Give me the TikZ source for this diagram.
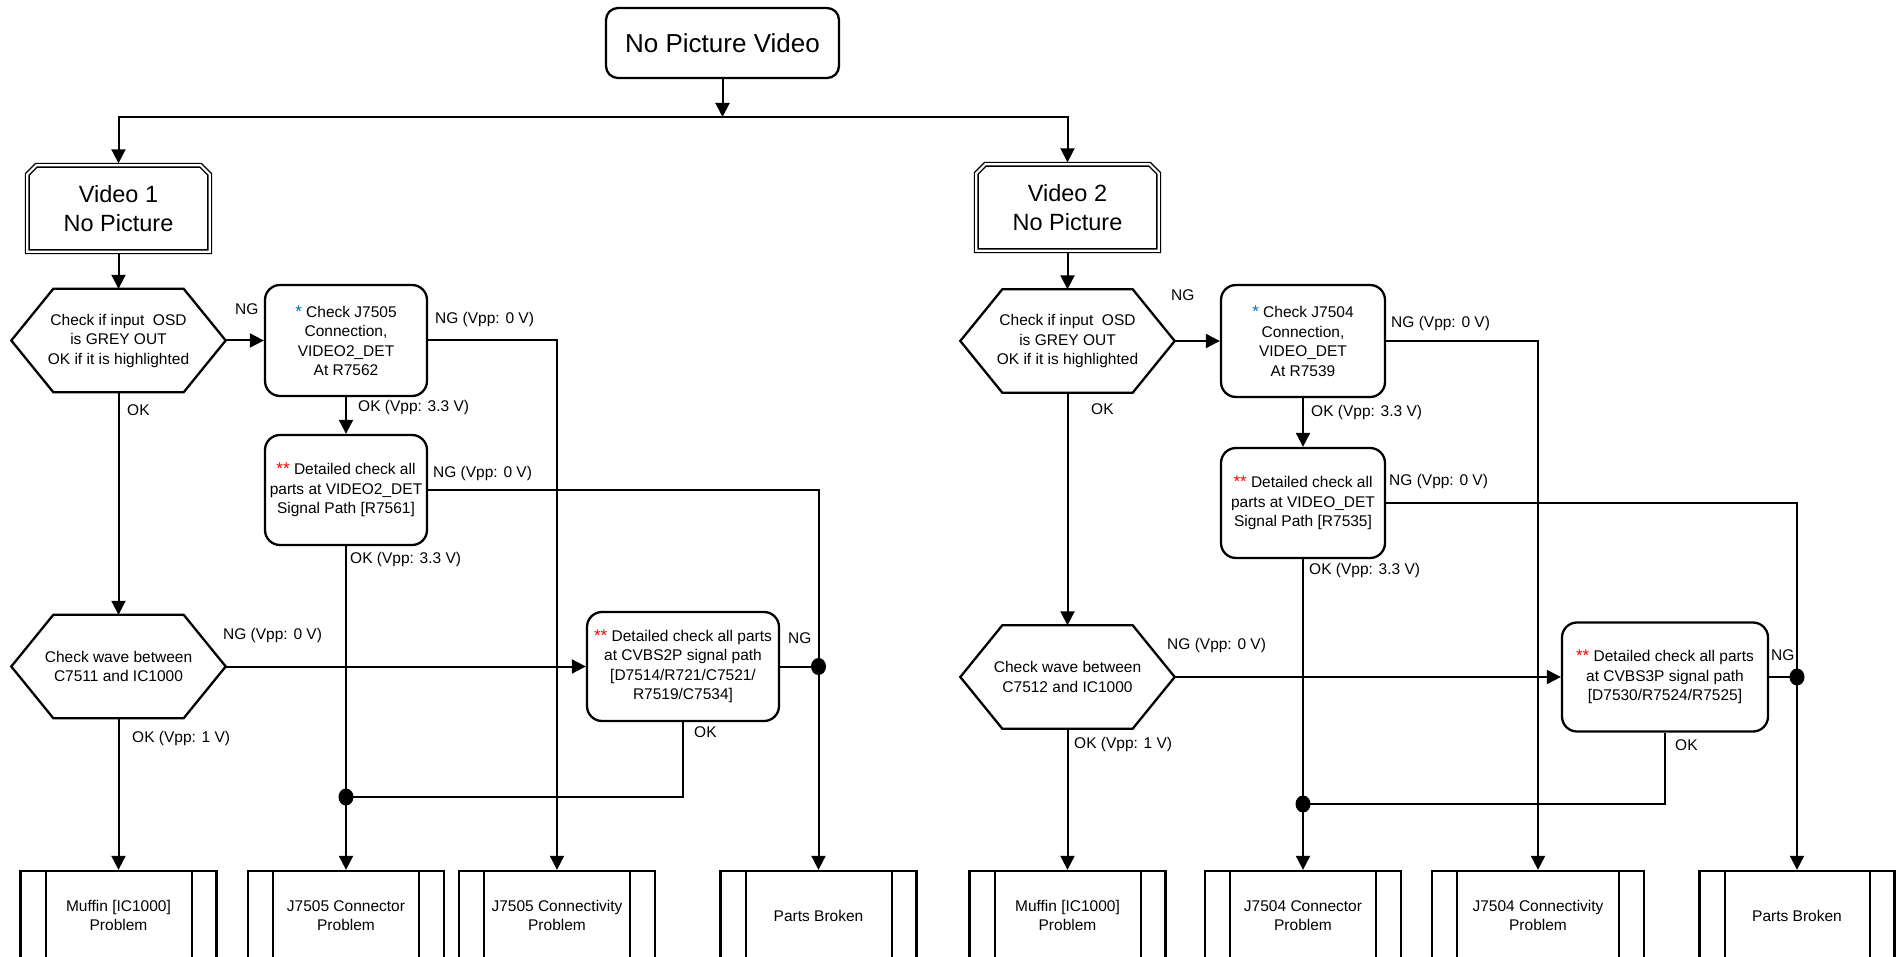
\documentclass[tikz,border=0pt]{standalone}
\usepackage{fontspec}
\setmainfont{Liberation Sans}
\usetikzlibrary{arrows.meta,shapes.geometric}
\definecolor{starblue}{RGB}{0,112,192}
\definecolor{starred}{RGB}{255,0,0}
\newcommand\bstar{{\fontsize{17}{17}\selectfont\color{starblue}*}}
\newcommand\rstars{{\fontsize{17}{17}\selectfont\color{starred}**}}
\newcommand\hexo[1]{\draw[boxline,line join=miter] (#1.west) -- ([xshift=42pt]#1.north west) -- ([xshift=-42pt]#1.north east) -- (#1.east) -- ([xshift=-42pt]#1.south east) -- ([xshift=42pt]#1.south west) -- cycle;}
\newcommand\vidframe[1]{\draw[line width=1.4pt,double=white,double distance=2.2pt,line join=miter] (#1.south west) -- ([yshift=-9pt]#1.north west) -- ([xshift=9pt]#1.north west) -- ([xshift=-9pt]#1.north east) -- ([yshift=-9pt]#1.north east) -- (#1.south east) -- cycle;}
\begin{document}
\begin{tikzpicture}[x=1pt,y=-1pt,
  txt/.style={font=\fontsize{15.5}{19.5}\selectfont, align=center},
  boxline/.style={line width=2.3pt},
  topbox/.style={draw, boxline, rounded corners=12pt, minimum width=233pt, minimum height=70pt, inner sep=0pt, font=\fontsize{26}{31}\selectfont},
  vidbox/.style={minimum width=182pt, minimum height=86pt, inner sep=0pt, align=center, font=\fontsize{23.5}{29}\selectfont},
  hexbox/.style={txt, minimum width=214pt, minimum height=103pt, inner sep=0pt},
  rbox/.style={txt, draw, boxline, rounded corners=15pt, inner sep=0pt},
  pbox/.style={txt, draw, boxline, minimum height=89pt, inner sep=0pt,
    path picture={\draw[line width=2pt]
      ([xshift=25pt]path picture bounding box.north west) -- ([xshift=25pt]path picture bounding box.south west)
      ([xshift=-25pt]path picture bounding box.north east) -- ([xshift=-25pt]path picture bounding box.south east);}},
  conn/.style={line width=2pt},
  arr/.style={conn, -{Triangle[length=14pt,width=14pt]}},
  lab/.style={font=\fontsize{15.5}{19.5}\selectfont, anchor=west, inner sep=0pt},
  dot/.style={ellipse, fill, minimum width=15pt, minimum height=17pt, inner sep=0pt}]
\useasboundingbox[fill=white] (0,0) rectangle (1896,957);

% ---------- top ----------
\node[topbox] (top) at (722.5,43) {No Picture Video};
\coordinate (split) at (722.5,117);

% ---------- left branch ----------
\node[vidbox] (v1) at (118.5,208.5) {Video 1\\No Picture};
\vidframe{v1}
\node[hexbox] (h1) at (118.5,340.5) {Check if input~ OSD\\is GREY OUT\\OK if it is highlighted};
\hexo{h1}
\node[rbox, minimum width=162pt, minimum height=111pt] (b1) at (346,340.5) {\bstar\ Check J7505\\Connection,\\VIDEO2\_DET\\At R7562};
\node[rbox, minimum width=162pt, minimum height=110pt] (d1) at (346,490) {\rstars\ Detailed check all\\parts at VIDEO2\_DET\\Signal Path [R7561]};
\node[hexbox] (h2) at (118.5,666.5) {Check wave between\\C7511 and IC1000};
\hexo{h2}
\node[rbox, minimum width=192pt, minimum height=109pt] (c1) at (683,666.5) {\rstars\ Detailed check all parts\\at CVBS2P signal path\\{[}D7514/R721/C7521/\\R7519/C7534]};
\node[dot] (j1) at (346,797) {};
\node[dot] (j2) at (818.5,666.5) {};
\node[pbox, minimum width=196pt] (m1) at (118.5,915.5) {Muffin [IC1000]\\Problem};
\node[pbox, minimum width=196pt] (k1) at (346,915.5) {J7505 Connector\\Problem};
\node[pbox, minimum width=196pt] (n1) at (557,915.5) {J7505 Connectivity\\Problem};
\node[pbox, minimum width=196pt] (p1) at (818.5,915.5) {Parts Broken};

% ---------- right branch ----------
\node[vidbox] (v2) at (1067.5,207.5) {Video 2\\No Picture};
\vidframe{v2}
\node[hexbox] (h3) at (1067.5,341) {Check if input~ OSD\\is GREY OUT\\OK if it is highlighted};
\hexo{h3}
\node[rbox, minimum width=164pt, minimum height=112pt] (b2) at (1303,341) {\bstar\ Check J7504\\Connection,\\VIDEO\_DET\\At R7539};
\node[rbox, minimum width=164pt, minimum height=110pt] (d2) at (1303,503) {\rstars\ Detailed check all\\parts at VIDEO\_DET\\Signal Path [R7535]};
\node[hexbox] (h4) at (1067.5,677) {Check wave between\\C7512 and IC1000};
\hexo{h4}
\node[rbox, minimum width=206pt, minimum height=109pt] (c2) at (1665,677) {\rstars\ Detailed check all parts\\at CVBS3P signal path\\{[}D7530/R7524/R7525]};
\node[dot] (j3) at (1303,804) {};
\node[dot] (j4) at (1797,677) {};
\node[pbox, minimum width=196pt] (m2) at (1067.5,915.5) {Muffin [IC1000]\\Problem};
\node[pbox, minimum width=196pt] (k2) at (1303,915.5) {J7504 Connector\\Problem};
\node[pbox, minimum width=212pt] (n2) at (1538,915.5) {J7504 Connectivity\\Problem};
\node[pbox, minimum width=195pt] (p2) at (1797,915.5) {Parts Broken};

% ---------- connectors: top ----------
\draw[arr] (top.south) -- (split);
\draw[arr] (split) -| ([yshift=2pt]v1.north);
\draw[arr] (split) -| ([yshift=2pt]v2.north);

% ---------- connectors: left ----------
\draw[arr] ([yshift=-2pt]v1.south) -- (h1.north);
\draw[arr] (h1.east) -- (b1.west);
\draw[arr] (h1.south) -- (h2.north);
\draw[arr] (b1.south) -- (d1.north);
\draw[arr] (b1.east) -| (n1.north);
\draw[arr] (d1.east) -| (p1.north);
\draw[conn] (d1.south) -- (j1.center);
\draw[arr] (j1.center) -- (k1.north);
\draw[arr] (h2.east) -- (c1.west);
\draw[conn] (c1.east) -- (j2.center);
\draw[conn] (c1.south) |- (j1.center);
\draw[arr] (h2.south) -- (m1.north);

% ---------- connectors: right ----------
\draw[arr] ([yshift=-2pt]v2.south) -- (h3.north);
\draw[arr] (h3.east) -- (b2.west);
\draw[arr] (h3.south) -- (h4.north);
\draw[arr] (b2.south) -- (d2.north);
\draw[arr] (b2.east) -| (n2.north);
\draw[arr] (d2.east) -| (p2.north);
\draw[conn] (d2.south) -- (j3.center);
\draw[arr] (j3.center) -- (k2.north);
\draw[arr] (h4.east) -- (c2.west);
\draw[conn] (c2.east) -- (j4.center);
\draw[conn] (c2.south) |- (j3.center);
\draw[arr] (h4.south) -- (m2.north);

% ---------- labels: left ----------
\node[lab] (l1) at (235,309) {NG};
\node[lab] (l2) at (435,319) {NG (Vpp: 0 V)};
\node[lab] (l3) at (127,410) {OK};
\node[lab] (l4) at (358,407) {OK (Vpp: 3.3 V)};
\node[lab] (l5) at (433,473) {NG (Vpp: 0 V)};
\node[lab] (l6) at (350,559) {OK (Vpp: 3.3 V)};
\node[lab] (l7) at (223,635) {NG (Vpp: 0 V)};
\node[lab] (l8) at (788,638) {NG};
\node[lab] (l9) at (694,732) {OK};
\node[lab] (l10) at (132,738) {OK (Vpp: 1 V)};

% ---------- labels: right ----------
\node[lab] (r1) at (1171,295) {NG};
\node[lab] (r2) at (1391,323) {NG (Vpp: 0 V)};
\node[lab] (r3) at (1091,409) {OK};
\node[lab] (r4) at (1311,412) {OK (Vpp: 3.3 V)};
\node[lab] (r5) at (1389,481) {NG (Vpp: 0 V)};
\node[lab] (r6) at (1309,570) {OK (Vpp: 3.3 V)};
\node[lab] (r7) at (1167,645) {NG (Vpp: 0 V)};
\node[lab] (r8) at (1771,655) {NG};
\node[lab] (r9) at (1675,745) {OK};
\node[lab] (r10) at (1074,744) {OK (Vpp: 1 V)};
\end{tikzpicture}
\end{document}
